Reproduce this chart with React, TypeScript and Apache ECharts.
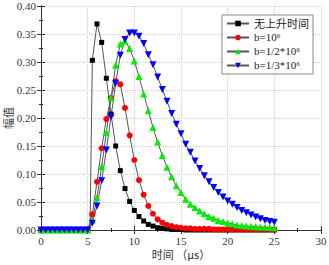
import React, { useEffect, useRef } from "react";
import * as echarts from "echarts";

const times = [0, 0.5, 1, 1.5, 2, 2.5, 3, 3.5, 4, 4.5, 5, 5.5, 6, 6.5, 7, 7.5, 8, 8.5, 9, 9.5, 10, 10.5, 11, 11.5, 12, 12.5, 13, 13.5, 14, 14.5, 15, 15.5, 16, 16.5, 17, 17.5, 18, 18.5, 19, 19.5, 20, 20.5, 21, 21.5, 22, 22.5, 23, 23.5, 24, 24.5, 25];

const seriesNames = ["无上升时间", "b=10⁶", "b=1/2*10⁶", "b=1/3*10⁶"];

const noRise = [0, 0, 0, 0, 0, 0, 0, 0, 0, 0, 0, 0.303, 0.368, 0.335, 0.271, 0.207, 0.150, 0.106, 0.074, 0.051, 0.035, 0.024, 0.016, 0.010, 0.007, 0.004, 0.003, 0.002, 0.001, 0.001, 0.001, 0, 0, 0, 0, 0, 0, 0, 0, 0, 0, 0, 0, 0, 0, 0, 0, 0, 0, 0, 0];
const noRiseStart = [5.25, 0];

const bOne = [0, 0, 0, 0, 0, 0, 0, 0, 0, 0, 0, 0.028, 0.086, 0.146, 0.198, 0.236, 0.266, 0.260, 0.218, 0.169, 0.125, 0.089, 0.063, 0.043, 0.029, 0.019, 0.013, 0.009, 0.007, 0.005, 0.004, 0.003, 0.003, 0.002, 0.002, 0.002, 0.002, 0.001, 0.001, 0.001, 0.001, 0.001, 0.001, 0.001, 0.001, 0.001, 0.001, 0.001, 0.001, 0.001, 0.001];

const bHalf = [0, 0, 0, 0, 0, 0, 0, 0, 0, 0, 0, 0.018, 0.058, 0.113, 0.174, 0.236, 0.294, 0.332, 0.337, 0.324, 0.302, 0.274, 0.243, 0.213, 0.183, 0.157, 0.133, 0.112, 0.095, 0.079, 0.067, 0.055, 0.046, 0.040, 0.034, 0.029, 0.024, 0.021, 0.017, 0.015, 0.0125, 0.011, 0.009, 0.008, 0.007, 0.0065, 0.006, 0.0055, 0.005, 0.0045, 0.004];

const bThird = [0, 0, 0, 0, 0, 0, 0, 0, 0, 0, 0, 0.012, 0.043, 0.088, 0.143, 0.202, 0.262, 0.312, 0.340, 0.352, 0.352, 0.346, 0.333, 0.313, 0.295, 0.273, 0.251, 0.230, 0.208, 0.189, 0.172, 0.153, 0.139, 0.123, 0.110, 0.097, 0.086, 0.076, 0.067, 0.059, 0.052, 0.046, 0.040, 0.035, 0.031, 0.027, 0.023, 0.020, 0.017, 0.015, 0.014];

const xTicks = { min: 0, max: 30, interval: 5 };
const yTicks = { min: 0, max: 0.4, interval: 0.05 };

const SERIF = "'Liberation Serif', 'Noto Sans CJK SC', serif";
const CJK = "'Noto Sans CJK SC', sans-serif";

export default function App() {
  const ref = useRef<HTMLDivElement>(null);
  useEffect(() => {
    document.body.style.margin = "0";
    const chart = echarts.init(ref.current!, null, { renderer: "svg" });
    const pair = (vals: number[]) => times.map((t, i) => [t, vals[i]]);
    const blackData: any[] = pair(noRise);
    blackData.splice(11, 0, { value: noRiseStart, symbol: "none" });

    const axisLine = { show: true, lineStyle: { color: "#333", width: 1 } };
    const tick = { show: true, inside: true, length: 4, lineStyle: { color: "#333" } };
    const minor = { show: true, splitNumber: 2, length: 2, lineStyle: { color: "#333" } };
    const lineColor = "#555";
    const mk = (name: string, data: any[], color: string, symbol: string, size: number, rotate = 0) => ({
      name,
      type: "line",
      data,
      symbol,
      symbolSize: size,
      symbolRotate: rotate,
      showAllSymbol: true,
      lineStyle: { color: lineColor, width: 1 },
      itemStyle: { color },
      z: 2,
    });

    chart.setOption({
      animation: false,
      grid: { left: 41, right: 8, top: 6, bottom: 35, containLabel: false, outerBoundsMode: "none" },
      legend: {
        top: 15,
        right: 16,
        orient: "vertical",
        itemWidth: 22,
        itemHeight: 7,
        itemGap: 3,
        padding: [3, 4, 3, 4],
        borderColor: "#888",
        borderWidth: 1,
        backgroundColor: "#fff",
        textStyle: { fontFamily: SERIF, fontSize: 11, color: "#222" },
        data: seriesNames,
      },
      xAxis: [
        {
          type: "value",
          ...xTicks,
          name: "时间 （μs）",
          nameLocation: "middle",
          nameGap: 18,
          nameMoveOverlap: false,
          nameTextStyle: { fontFamily: CJK, fontSize: 11, color: "#333" },
          axisLine,
          axisTick: tick,
          minorTick: minor,
          axisLabel: { fontFamily: SERIF, fontSize: 11, color: "#333", margin: 5 },
          splitLine: { show: true, lineStyle: { color: "#ccc", type: "dotted" } },
        },
        {
          type: "value",
          position: "top",
          ...xTicks,
          axisLine,
          axisTick: tick,
          minorTick: minor,
          axisLabel: { show: false },
          splitLine: { show: false },
        },
      ],
      yAxis: [
        {
          type: "value",
          ...yTicks,
          name: "幅值",
          nameLocation: "middle",
          nameGap: 28,
          nameMoveOverlap: false,
          nameTextStyle: { fontFamily: CJK, fontSize: 11, color: "#333" },
          axisLine,
          axisTick: tick,
          minorTick: minor,
          axisLabel: { fontFamily: SERIF, fontSize: 11, color: "#333", margin: 5, formatter: (v: number) => v.toFixed(2) },
          splitLine: { show: true, lineStyle: { color: "#ccc", type: "dotted" } },
        },
        {
          type: "value",
          position: "right",
          ...yTicks,
          axisLine,
          axisTick: tick,
          minorTick: minor,
          axisLabel: { show: false },
          splitLine: { show: false },
        },
      ],
      series: [
        mk(seriesNames[0], blackData, "#000", "rect", 5),
        mk(seriesNames[1], pair(bOne), "#ff0000", "circle", 6),
        mk(seriesNames[2], pair(bHalf), "#00ee00", "triangle", 7),
        mk(seriesNames[3], pair(bThird), "#0000ff", "triangle", 7, 180),
      ],
    });
    return () => chart.dispose();
  }, []);
  return <div ref={ref} style={{ width: 329, height: 265 }} />;
}
